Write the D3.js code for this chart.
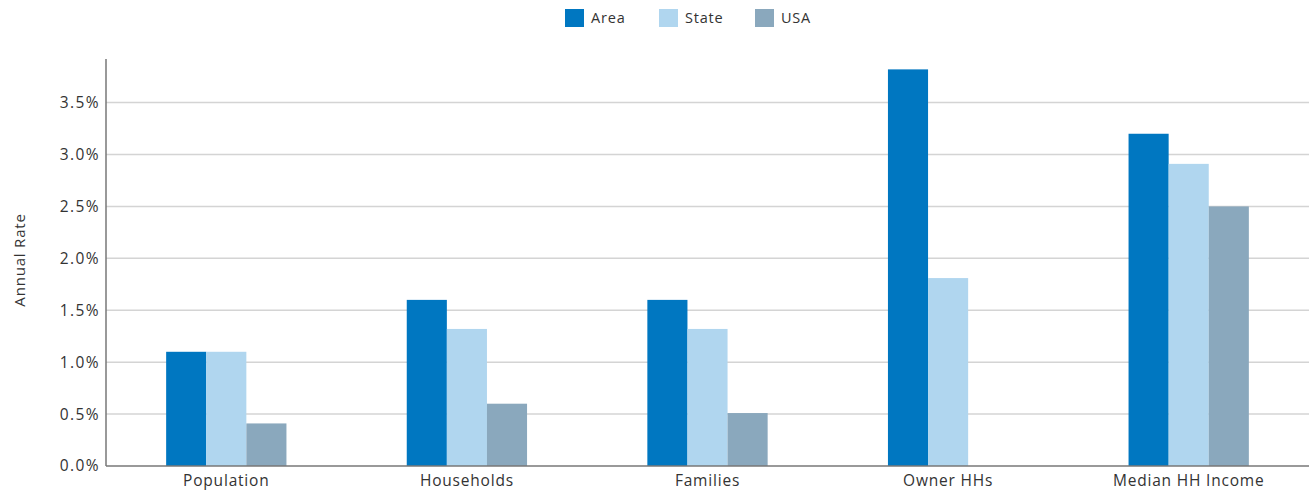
<!DOCTYPE html>
<html><head><meta charset="utf-8">
<script src="https://cdn.jsdelivr.net/npm/d3@7"></script>
<style>
body{margin:0;background:#fff;}
text{font-family:"Open Sans", sans-serif;}
</style></head>
<body><svg id="c" width="1311" height="496"></svg>
<script>
const categories = ["Population","Households","Families","Owner HHs","Median HH Income"];
const seriesNames = ["Area","State","USA"];
const areaValues  = [1.1, 1.6, 1.6, 3.82, 3.2];
const stateValues = [1.1, 1.32, 1.32, 1.81, 2.91];
const usaValues   = [0.41, 0.6, 0.51, 0, 2.5];
const yTicks = [0,0.5,1,1.5,2,2.5,3,3.5];
const colors = ["#0077c1","#b0d6ef","#8aa8bd"];

const svg = d3.select("#c");
const m = {l:106, r:1309, t:59, b:466};
const x = d3.scaleBand().domain(categories).range([m.l, m.r]).paddingInner(0).paddingOuter(0);
const xs = d3.scaleBand().domain(seriesNames).range([0, x.bandwidth()]).paddingInner(0).paddingOuter(1.5);
const y = d3.scaleLinear().domain([0, 3.92]).range([m.b, m.t]);

// gridlines
svg.append("g").selectAll("line").data(yTicks.filter(d=>d>0)).join("line")
  .attr("x1", m.l).attr("x2", m.r).attr("y1", d=>y(d)).attr("y2", d=>y(d))
  .attr("stroke","#d4d4d4").attr("stroke-width",1.5);

// bars
const data = [areaValues, stateValues, usaValues];
const rows = [];
categories.forEach((c,i)=>seriesNames.forEach((s,j)=>rows.push({c, s, j, v:data[j][i]})));
svg.append("g").selectAll("rect").data(rows.filter(d=>d.v>0)).join("rect")
  .attr("x", d=>x(d.c)+xs(d.s)).attr("width", xs.bandwidth())
  .attr("y", d=>y(d.v)).attr("height", d=>y(0)-y(d.v))
  .attr("fill", d=>colors[d.j]);

// y axis
const ya = d3.axisLeft(y).tickValues(yTicks).tickSize(0).tickPadding(6)
  .tickFormat(d=>d3.format(".1f")(d)+"%");
const gy = svg.append("g").attr("transform",`translate(${m.l},0)`).call(ya);
gy.select(".domain").remove();
gy.selectAll("text").attr("font-size",15.5).attr("fill","#333").attr("font-weight",500)
  .attr("letter-spacing","1.4px").attr("font-family","'Open Sans', sans-serif");
svg.append("line").attr("x1",m.l).attr("x2",m.l).attr("y1",m.t).attr("y2",m.b)
  .attr("stroke","#777").attr("stroke-width",1.5);

// x axis
const xa = d3.axisBottom(x).tickSize(0).tickPadding(9);
const gx = svg.append("g").attr("transform",`translate(0,${m.b})`).call(xa);
gx.select(".domain").remove();
gx.selectAll("text").attr("font-size",15.5).attr("fill","#333").attr("font-weight",500)
  .attr("letter-spacing","0.8px").attr("font-family","'Open Sans', sans-serif");
svg.append("line").attr("x1",m.l).attr("x2",m.r).attr("y1",m.b).attr("y2",m.b)
  .attr("stroke","#777").attr("stroke-width",1.5);

// y title
svg.append("text").attr("transform","translate(25,260) rotate(-90)")
  .attr("text-anchor","middle").attr("font-size",15).attr("letter-spacing","0.8px")
  .attr("fill","#333").text("Annual Rate");

// legend
const legX = [565, 659, 755];
const lg = svg.append("g").selectAll("g").data(seriesNames).join("g")
  .attr("transform",(d,i)=>`translate(${legX[i]},9)`);
lg.append("rect").attr("width",19).attr("height",18).attr("fill",(d,i)=>colors[i]);
lg.append("text").attr("x",26).attr("y",14).attr("font-size",14.5).attr("font-weight",500)
  .attr("letter-spacing","0.8px").attr("fill","#333").text(d=>d);
</script></body></html>
